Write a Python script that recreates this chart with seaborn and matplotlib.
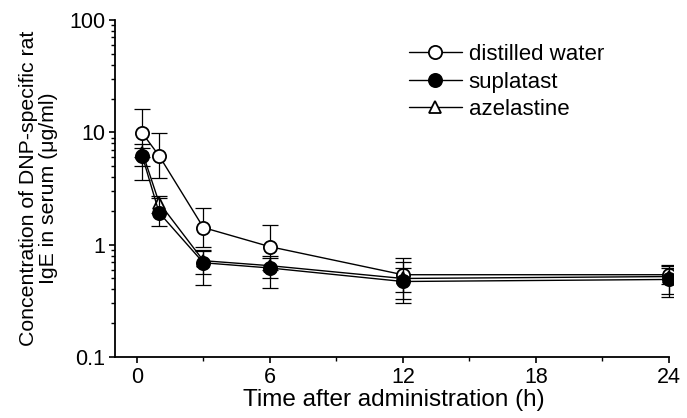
import matplotlib
matplotlib.use("Agg")
import matplotlib.pyplot as plt
from matplotlib.ticker import FixedLocator, LogLocator, NullFormatter
import seaborn as sns
import numpy as np

time_h = [0.25, 1, 3, 6, 12, 24]

water_mean = [9.8, 6.2, 1.42, 0.96, 0.54, 0.54]
water_hi = [16.0, 9.8, 2.1, 1.5, 0.76, 0.65]
water_lo = [6.0, 3.9, 0.95, 0.6, 0.38, 0.45]

supl_mean = [6.1, 1.93, 0.69, 0.62, 0.47, 0.49]
supl_hi = [7.3, 2.6, 0.88, 0.76, 0.62, 0.66]
supl_lo = [3.8, 1.48, 0.44, 0.41, 0.30, 0.34]

azel_mean = [6.6, 2.37, 0.72, 0.65, 0.50, 0.52]
azel_hi = [7.8, 2.7, 0.9, 0.8, 0.7, 0.62]
azel_lo = [5.0, 1.9, 0.55, 0.5, 0.33, 0.36]

y_ticks = [0.1, 1, 10, 100]
y_ticklabels = ["0.1", "1", "10", "100"]
x_ticks = [0, 6, 12, 18, 24]


def main():
    sns.set_style("ticks")
    plt.rcParams["font.family"] = ["Liberation Sans", "DejaVu Sans"]
    plt.rcParams["text.color"] = "black"
    plt.rcParams["axes.labelcolor"] = "black"
    fig = plt.figure(figsize=(6.87, 4.18), dpi=100)
    ax = fig.add_axes([0.167, 0.146, 0.813, 0.806])

    series = [
        ("distilled water", water_mean, water_lo, water_hi, "o", "white", 1),
        ("azelastine", azel_mean, azel_lo, azel_hi, "^", "white", 2),
        ("suplatast", supl_mean, supl_lo, supl_hi, "o", "black", 3),
    ]
    for name, mean, lo, hi, mk, fc, z in series:
        mean = np.array(mean)
        yerr = [mean - np.array(lo), np.array(hi) - mean]
        ax.errorbar(time_h, mean, yerr=yerr, fmt="none", ecolor="black",
                    elinewidth=0.9, capsize=6, capthick=0.9, zorder=z)
        sns.lineplot(x=time_h, y=mean, ax=ax, color="black", lw=1.0,
                     marker=mk, markersize=9.5 if mk == "o" else 9,
                     markerfacecolor=fc, markeredgecolor="black",
                     markeredgewidth=1.3, label=name, zorder=z + 0.5)

    ax.set_yscale("log")
    ax.set_ylim(0.1, 100)
    ax.set_xlim(-1, 24.2)
    ax.yaxis.set_major_locator(FixedLocator(y_ticks))
    ax.set_yticklabels(y_ticklabels)
    ax.yaxis.set_minor_locator(LogLocator(base=10, subs=np.arange(2, 10)))
    ax.yaxis.set_minor_formatter(NullFormatter())
    ax.set_xticks(x_ticks)
    ax.set_xticks([3, 9, 15, 21], minor=True)
    ax.spines["bottom"].set_bounds(-1, 24)
    sns.despine(ax=ax)
    for sp in ["left", "bottom"]:
        ax.spines[sp].set_linewidth(1.3)
        ax.spines[sp].set_color("black")
    ax.tick_params(which="major", length=4, width=1.2, labelsize=15.5, colors="black", pad=3)
    ax.tick_params(which="minor", length=3, width=1.0, colors="black")

    ax.set_xlabel("Time after administration (h)", fontsize=17.5, labelpad=1, color="black")
    ax.set_ylabel("Concentration of DNP-specific rat\nIgE in serum (μg/ml)", fontsize=15.3,
                  labelpad=8, linespacing=1.05, color="black")

    h, l = ax.get_legend_handles_labels()
    order = ["distilled water", "suplatast", "azelastine"]
    hd = dict(zip(l, h))
    leg = ax.legend([hd[k] for k in order], order, frameon=False, fontsize=16,
                    loc="upper left", bbox_to_anchor=(0.595, 0.895),
                    bbox_transform=fig.transFigure, handlelength=2.4,
                    handletextpad=0.3, labelspacing=0.3, borderaxespad=0,
                    borderpad=0)
    for t in leg.get_texts():
        t.set_color("black")

    fig.savefig("out.png", dpi=100)


if __name__ == "__main__":
    main()
